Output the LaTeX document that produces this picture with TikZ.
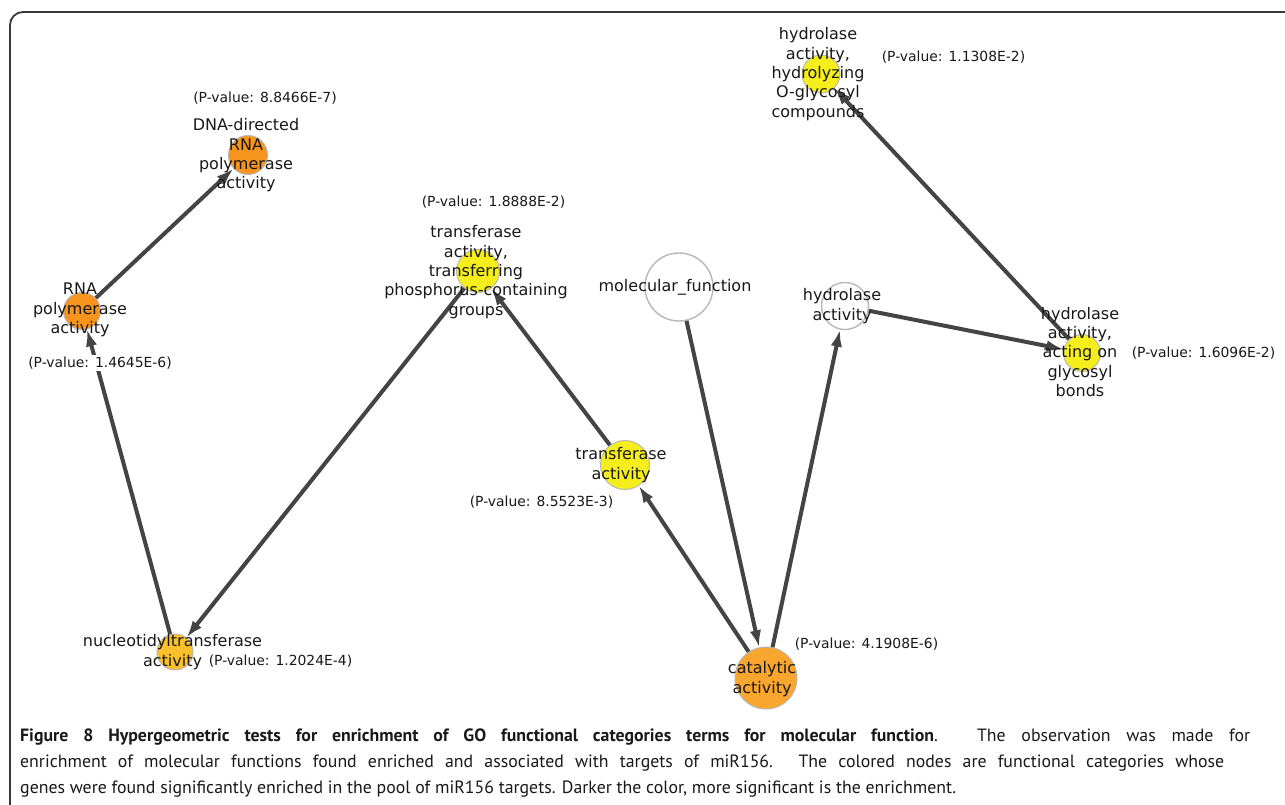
\documentclass[tikz,border=0pt]{standalone}
\usepackage{fontspec}
\setmainfont{DejaVu Sans}
\newfontfamily\capfont{PT Sans}
\usetikzlibrary{arrows.meta}
\definecolor{edgec}{HTML}{444444}
\definecolor{gostroke}{HTML}{B8B8B8}
\definecolor{orangeA}{HTML}{F7941E}
\definecolor{orangeB}{HTML}{F9A62E}
\definecolor{goldC}{HTML}{FAC02C}
\definecolor{yellowD}{HTML}{F6EE1C}
\definecolor{framec}{HTML}{3A3A3A}
\begin{document}
\begin{tikzpicture}[x=1pt,y=-1pt,
  go/.style={circle,draw=gostroke,line width=1pt,inner sep=0pt,minimum size=#1},
  lbl/.style={align=center,inner sep=0pt,font=\fontsize{16}{19.3}\selectfont,text=black!90},
  pv/.style={inner sep=1.5pt,fill=white,font=\fontsize{13.9}{16}\selectfont,text=black!90},
  edge/.style={draw=edgec,line width=4pt,-{Latex[length=17pt,width=11.5pt]}},
  captext/.style={anchor=base west,inner sep=0pt,font=\capfont\fontsize{17.8}{26}\selectfont,text=black!90}]
\useasboundingbox (0,0) rectangle (1285,804);
\clip (0,0) rectangle (1285,804);
\fill[white] (0,0) rectangle (1285,804);
\draw[framec,line width=1.8pt,rounded corners=13pt] (10,12) rectangle (1320,840);

% circles
\node[go=39,fill=orangeA] (dna) at (248,155) {};
\node[go=37,fill=orangeA] (rnap) at (82,311) {};
\node[go=43,fill=yellowD] (phos) at (478,271) {};
\node[go=68,fill=white,line width=1.4pt] (mf) at (679,287) {};
\node[go=47,fill=white,line width=1.4pt] (hyd) at (845,306) {};
\node[go=38,fill=yellowD] (hgly) at (821,74) {};
\node[go=37,fill=yellowD] (agly) at (1082,353) {};
\node[go=49,fill=yellowD] (trans) at (625,465) {};
\node[go=36,fill=goldC] (nuc) at (175,652) {};
\node[go=62,fill=orangeB] (cat) at (766,678) {};

% edges
\draw[edge] (rnap) -- (dna);
\draw[edge] (nuc) -- (rnap);
\draw[edge] (phos) -- (nuc);
\draw[edge] (trans) -- (phos);
\draw[edge] (cat) -- (trans);
\draw[edge] (mf) -- (cat);
\draw[edge] (cat) -- (hyd);
\draw[edge] (hyd) -- (agly);
\draw[edge] (agly) -- (hgly);

% labels
\node[lbl] (dna-l) at (246,155.5) {DNA-directed\\RNA\\polymerase\\activity};
\node[lbl] (rnap-l) at (80,310) {RNA\\polymerase\\activity};
\node[lbl] (phos-l) at (476,272) {transferase\\activity,\\transferring\\phosphorus-containing\\groups};
\node[lbl] (mf-l) at (675,287) {molecular\_function};
\node[lbl] (hyd-l) at (842,306) {hydrolase\\activity};
\node[lbl] (hgly-l) at (818,74) {hydrolase\\activity,\\hydrolyzing\\O-glycosyl\\compounds};
\node[lbl] (agly-l) at (1080,352) {hydrolase\\activity,\\acting on\\glycosyl\\bonds};
\node[lbl] (trans-l) at (621,465) {transferase\\activity};
\node[lbl] (nuc-l) at (172.5,652) {nucleotidyltransferase\\activity};
\node[lbl] (cat-l) at (762,679) {catalytic\\activity};

% p-values
\node[pv] (dna-p) at (265,98) {(P-value: 8.8466E-7)};
\node[pv] (rnap-p) at (100,363) {(P-value: 1.4645E-6)};
\node[pv] (phos-p) at (493.5,202) {(P-value: 1.8888E-2)};
\node[pv] (hgly-p) at (953.5,57) {(P-value: 1.1308E-2)};
\node[pv] (agly-p) at (1203.5,353) {(P-value: 1.6096E-2)};
\node[pv] (trans-p) at (541.5,502) {(P-value: 8.5523E-3)};
\node[pv] (nuc-p) at (280.5,661) {(P-value: 1.2024E-4)};
\node[pv] (cat-p) at (866.5,644) {(P-value: 4.1908E-6)};

% caption
\node[captext] (cap1) at (20,741) {\makebox[1230pt][s]{\textbf{Figure 8 Hypergeometric tests for enrichment of GO functional categories terms for molecular function}. The observation was made for}};
\node[captext] (cap2) at (20,767) {\makebox[1204pt][s]{enrichment of molecular functions found enriched and associated with targets of miR156. The colored nodes are functional categories whose}};
\node[captext] (cap3) at (20,793) {genes were found significantly enriched in the pool of miR156 targets. Darker the color, more significant is the enrichment.};
\end{tikzpicture}
\end{document}
